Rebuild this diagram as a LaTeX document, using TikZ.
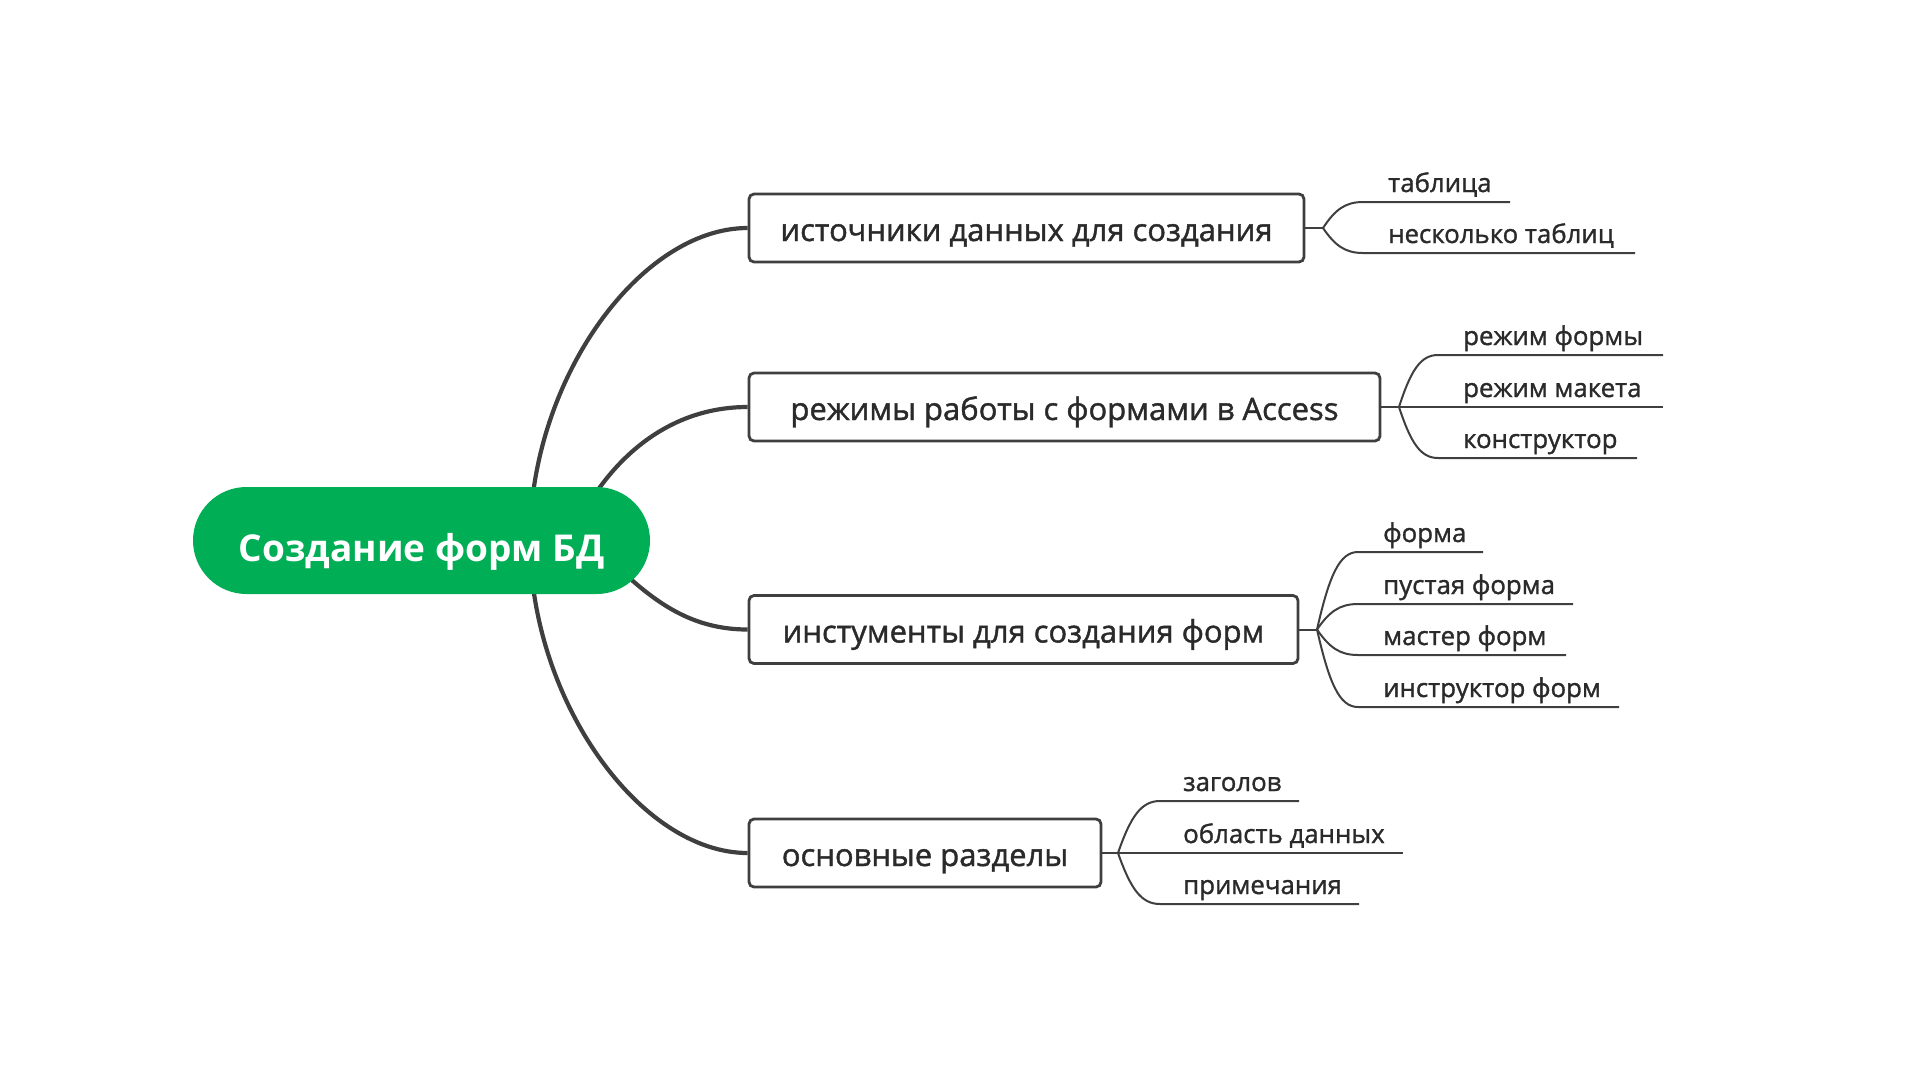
\documentclass[tikz,border=0pt]{standalone}
\usepackage{fontspec}
\setmainfont{Open Sans}
\newfontfamily\medfont{Open Sans}[FakeBold=1.3]
\usetikzlibrary{calc}
\definecolor{rootgreen}{HTML}{00AE55}
\definecolor{linegray}{HTML}{3F3F3F}
\definecolor{textgray}{HTML}{2A2A2A}
\tikzset{
  rootbox/.style={fill=rootgreen, rounded corners=53.5pt, minimum width=457pt, minimum height=107pt, inner sep=0pt, text height=42pt, text depth=1pt, text=white, font=\fontsize{37}{40}\selectfont\bfseries},
  topicbox/.style={draw=linegray, line width=2.8pt, rounded corners=5pt, fill=white, minimum height=68pt, inner sep=0pt, text height=28pt, text depth=2pt, text=textgray, font=\medfont\fontsize{31}{34}\selectfont},
  subtext/.style={anchor=base west, inner sep=0pt, text=textgray, font=\medfont\fontsize{25.8}{28}\selectfont},
  mainline/.style={draw=linegray, line width=4.2pt},
  subline/.style={draw=linegray, line width=2pt},
}
\newcommand\mysubline[3]{%
  \draw[subline] let \p1=(#1), \p2=(#2) in (#1) .. controls ({\x1+0.3*(\x2-\x1)},{\y1+0.7*(\y2-\y1)}) and ({\x1+0.55*(\x2-\x1)},{\y2}) .. (#2) -- (#3);}
\begin{document}
\begin{tikzpicture}[x=1pt,y=-1pt]
\useasboundingbox (0,0) rectangle (1920,1080);
% main topic boxes
\node[topicbox, minimum width=555pt] (b1) at (1026.5,228) {источники данных для создания};
\node[topicbox, minimum width=631pt] (b2) at (1064.5,407) {режимы работы с формами в Access};
\node[topicbox, minimum width=549pt] (b3) at (1023.5,629.5) {инстументы для создания форм};
\node[topicbox, minimum width=352pt] (b4) at (925,853) {основные разделы};
% start points of the main connectors (hidden under the root)
\coordinate (s1) at (530,540);
\coordinate (s2) at (570,540);
\coordinate (s3) at (590,540);
\coordinate (s4) at (530,540);
\draw[mainline] (s1) .. controls (530,380) and (640,228) .. (b1.west);
\draw[mainline] (s2) .. controls (600,470) and (660,407) .. (b2.west);
\draw[mainline] (s3) .. controls (640,590) and (680,629.5) .. (b3.west);
\draw[mainline] (s4) .. controls (530,700) and (640,853) .. (b4.west);
\node[rootbox] (root) at (421.5,540.5) {Создание форм БД};
% ---- branch 1
\coordinate (f1) at (1323,228);
\draw[subline] (b1.east) -- (f1);
\coordinate (c11) at (1363,202); \coordinate (u11) at (1510,202);
\coordinate (c12) at (1363,253); \coordinate (u12) at (1635,253);
\mysubline{f1}{c11}{u11}
\mysubline{f1}{c12}{u12}
\node[subtext] (t11) at (1388,192) {таблица};
\node[subtext] (t12) at (1388,243) {несколько таблиц};
% ---- branch 2
\coordinate (f2) at (1399,407);
\draw[subline] (b2.east) -- (f2);
\coordinate (c21) at (1438,355); \coordinate (u21) at (1663,355);
\coordinate (c22) at (1438,407); \coordinate (u22) at (1663,407);
\coordinate (c23) at (1438,458); \coordinate (u23) at (1637,458);
\mysubline{f2}{c21}{u21}
\draw[subline] (f2) -- (u22);
\mysubline{f2}{c23}{u23}
\node[subtext] (t21) at (1463,345) {режим формы};
\node[subtext] (t22) at (1463,397) {режим макета};
\node[subtext] (t23) at (1463,448) {конструктор};
% ---- branch 3
\coordinate (f3) at (1317,629.5);
\draw[subline] (b3.east) -- (f3);
\coordinate (c31) at (1358,552); \coordinate (u31) at (1483,552);
\coordinate (c32) at (1358,604); \coordinate (u32) at (1573,604);
\coordinate (c33) at (1358,655); \coordinate (u33) at (1566,655);
\coordinate (c34) at (1358,707); \coordinate (u34) at (1619,707);
\mysubline{f3}{c31}{u31}
\mysubline{f3}{c32}{u32}
\mysubline{f3}{c33}{u33}
\mysubline{f3}{c34}{u34}
\node[subtext] (t31) at (1383,542) {форма};
\node[subtext] (t32) at (1383,594) {пустая форма};
\node[subtext] (t33) at (1383,645) {мастер форм};
\node[subtext] (t34) at (1383,697) {инструктор форм};
% ---- branch 4
\coordinate (f4) at (1118,853);
\draw[subline] (b4.east) -- (f4);
\coordinate (c41) at (1160,801); \coordinate (u41) at (1299,801);
\coordinate (c42) at (1160,853); \coordinate (u42) at (1403,853);
\coordinate (c43) at (1160,904); \coordinate (u43) at (1359,904);
\mysubline{f4}{c41}{u41}
\draw[subline] (f4) -- (u42);
\mysubline{f4}{c43}{u43}
\node[subtext] (t41) at (1183,791) {заголов};
\node[subtext] (t42) at (1183,843) {область данных};
\node[subtext] (t43) at (1183,894) {примечания};
\end{tikzpicture}
\end{document}
